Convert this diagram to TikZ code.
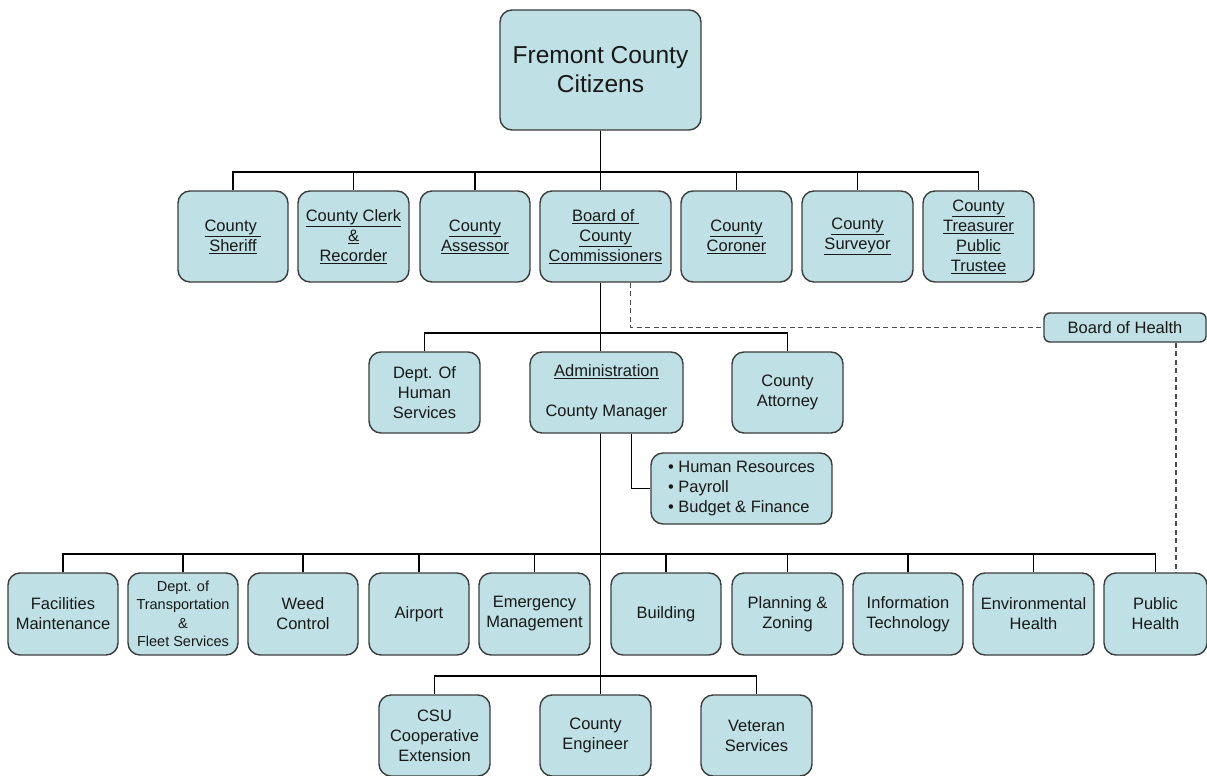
\documentclass[tikz,border=0pt]{standalone}
\usepackage{fontspec}
\setmainfont{Liberation Sans}
\usepackage{tikz}
\usetikzlibrary{positioning}
\definecolor{boxfill}{RGB}{191,224,228}
\definecolor{boxline}{RGB}{60,60,60}
\definecolor{inktext}{RGB}{25,25,25}

\begin{document}
\begin{tikzpicture}[x=1pt, y=-1pt,
  unit/.style={draw=boxline, line width=1.4pt, fill=boxfill, rounded corners=12pt, align=center, inner sep=0pt, text=inktext, font=\fontsize{16.5}{20}\selectfont},
  office/.style={unit, minimum width=110pt, minimum height=91pt},
  dept/.style={unit, minimum width=111pt, minimum height=81pt},
  link/.style={draw=black, line width=1.8pt},
  dotted link/.style={draw=black!70, line width=1.3pt, dash pattern=on 5pt off 3.5pt}]
  \useasboundingbox (0,0) rectangle (1207,776);

  % top
  \node[unit, minimum width=201pt, minimum height=120pt, font=\fontsize{24.5}{29}\selectfont] (citizens) at (600.5,70) {Fremont County\\Citizens};

  % elected offices
  \node[office] (sheriff) at (233,236.5) {\underline{County\ }\\\underline{Sheriff}};
  \node[office, minimum width=111pt] (clerk) at (353.5,236.5) {\underline{County Clerk}\\\underline{\&}\\\underline{Recorder}};
  \node[office] (assessor) at (475,236.5) {\underline{County}\\\underline{Assessor}};
  \node[office, minimum width=131pt] (board) at (605.5,236.5) {\underline{Board of\ }\\\underline{County}\\\underline{Commissioners}};
  \node[office, minimum width=111pt] (coroner) at (736.5,236.5) {\underline{County}\\\underline{Coroner}};
  \node[office, minimum width=111pt] (surveyor) at (857.5,236.5) {\underline{County}\\\underline{Surveyor}};
  \node[office, minimum width=111pt] (treasurer) at (978.5,236.5) {\underline{County}\\\underline{Treasurer}\\\underline{Public}\\\underline{Trustee}};

  \node[unit, minimum width=162pt, minimum height=29pt, rounded corners=6pt] (boh) at (1125,327.5) {Board of Health};

  % under the board
  \node[dept] (dhs) at (424.5,392.5) {Dept. Of\\Human\\Services};
  \node[dept, minimum width=153pt] (admin) at (606.5,392.5) {\underline{Administration}\\[20pt]County Manager};
  \node[dept] (attorney) at (787.5,392.5) {County\\Attorney};
  \node[unit, minimum width=181pt, minimum height=71pt, align=left] (adminsvc) at (741.5,488.5) {\textbullet\ Human Resources\\\textbullet\ Payroll\\\textbullet\ Budget \& Finance};

  % departments
  \node[dept, minimum width=110pt, minimum height=82pt] (facil) at (63,614) {Facilities\\Maintenance};
  \node[dept, minimum width=110pt, minimum height=82pt, font=\fontsize{14.5}{18.5}\selectfont] (transp) at (183,614) {Dept. of\\Transportation\\\&\\Fleet Services};
  \node[dept, minimum width=110pt, minimum height=82pt] (weed) at (303,614) {Weed\\Control};
  \node[dept, minimum width=100pt, minimum height=82pt] (airport) at (419,614) {Airport};
  \node[dept, minimum height=82pt] (emerg) at (534.5,614) {Emergency\\Management};
  \node[dept, minimum width=110pt, minimum height=82pt] (bldg) at (666,614) {Building};
  \node[dept, minimum height=82pt] (plan) at (787.5,614) {Planning \&\\Zoning};
  \node[dept, minimum width=110pt, minimum height=82pt] (it) at (908,614) {Information\\Technology};
  \node[dept, minimum width=121pt, minimum height=82pt] (envh) at (1033.5,614) {Environmental\\Health};
  \node[dept, minimum width=103pt, minimum height=82pt] (pubh) at (1155.5,614) {Public\\Health};

  \node[dept] (csu) at (434.5,735.5) {CSU\\Cooperative\\Extension};
  \node[dept] (eng) at (595.5,735.5) {County\\Engineer};
  \node[dept] (vet) at (756.5,735.5) {Veteran\\Services};

  % citizens to offices
  \draw[link] (citizens.south) -- ++(0,41) -| (sheriff.north);
  \draw[link] (citizens.south) -- ++(0,41) -| (clerk.north);
  \draw[link] (citizens.south) -- ++(0,41) -| (assessor.north);
  \draw[link] (citizens.south) -- (board.north -| citizens.south);
  \draw[link] (citizens.south) -- ++(0,41) -| (coroner.north);
  \draw[link] (citizens.south) -- ++(0,41) -| (surveyor.north);
  \draw[link] (citizens.south) -- ++(0,41) -| (treasurer.north);

  % board to its units
  \draw[link] (board.south -| citizens.south) -- ++(0,50) -| (dhs.north);
  \draw[link] (board.south -| citizens.south) -- (admin.north -| citizens.south);
  \draw[link] (board.south -| citizens.south) -- ++(0,50) -| (attorney.north);
  \draw[link] ([xshift=25pt]admin.south) |- (adminsvc.west);
  \draw[dotted link] ([xshift=25pt]board.south) |- (boh.west);
  \draw[dotted link] ([xshift=51pt]boh.south) -- ([xshift=51pt]boh.south |- pubh.north);

  % manager to departments
  \draw[link] (admin.south -| citizens.south) -- ++(0,120) -| (facil.north);
  \draw[link] (admin.south -| citizens.south) -- ++(0,120) -| (transp.north);
  \draw[link] (admin.south -| citizens.south) -- ++(0,120) -| (weed.north);
  \draw[link] (admin.south -| citizens.south) -- ++(0,120) -| (airport.north);
  \draw[link] (admin.south -| citizens.south) -- ++(0,120) -| (emerg.north);
  \draw[link] (admin.south -| citizens.south) -- ++(0,120) -| (bldg.north);
  \draw[link] (admin.south -| citizens.south) -- ++(0,120) -| (plan.north);
  \draw[link] (admin.south -| citizens.south) -- ++(0,120) -| (it.north);
  \draw[link] (admin.south -| citizens.south) -- ++(0,120) -| (envh.north);
  \draw[link] (admin.south -| citizens.south) -- ++(0,120) -| (pubh.north);
  \draw[link] (admin.south -| citizens.south) -- ++(0,242) -| (csu.north);
  \draw[link] (admin.south -| citizens.south) -- (eng.north -| citizens.south);
  \draw[link] (admin.south -| citizens.south) -- ++(0,242) -| (vet.north);
\end{tikzpicture}
\end{document}
